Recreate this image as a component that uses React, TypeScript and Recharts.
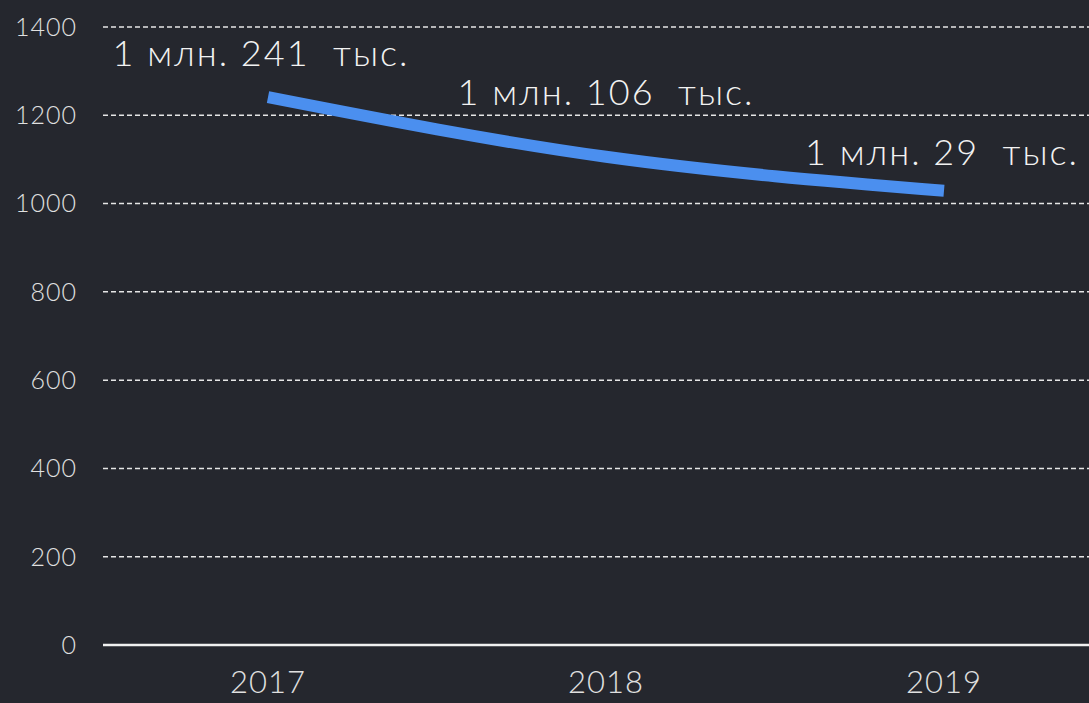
import { LineChart, Line, XAxis, YAxis, CartesianGrid, ReferenceLine, LabelList } from 'recharts'

const years = ['2017', '2018', '2019']
const visitors = [1241, 1106, 1029]
const yTicks = [0, 200, 400, 600, 800, 1000, 1200, 1400]

const data = years.map((year, i) => ({ year, value: visitors[i] }))

// how far above the point each caption sits
const captionLift = [31, 52, 26]
const captionShift = [-7, 0, -2]

const fmt = (v: number) => `${Math.floor(v / 1000)} млн. ${v % 1000}  тыс.`

const font = 'Lato, "Open Sans", sans-serif'

function Caption(props: any) {
  const { x, y, value, index } = props
  return (
    <text
      x={x + captionShift[index]}
      y={y - captionLift[index]}
      textAnchor="middle"
      fill="#f2f2f2"
      fontSize={36}
      fontWeight={300}
      letterSpacing={2}
      fontFamily={font}
      style={{ whiteSpace: 'pre' }}
    >
      {fmt(value)}
    </text>
  )
}

export default function App() {
  return (
    <div style={{ position: 'absolute', left: 0, top: 0, width: 1089, height: 703, background: '#25272e' }}>
      <LineChart width={1089} height={703} data={data} margin={{ top: 27, right: 0, bottom: 0, left: 0 }}>
        <CartesianGrid vertical={false} stroke="#e6e6e6" strokeDasharray="5 3" strokeWidth={1.5} />
        <XAxis
          dataKey="year"
          height={58}
          padding={{ left: 165, right: 145 }}
          axisLine={false}
          tickLine={false}
          tick={{ fill: '#e0e0e0', fontSize: 31, fontWeight: 300, fontFamily: font, letterSpacing: 1 }}
          tickMargin={20}
        />
        <YAxis
          width={103}
          domain={[0, 1400]}
          ticks={yTicks}
          axisLine={false}
          tickLine={false}
          tick={{ fill: '#e0e0e0', fontSize: 25, fontWeight: 300, fontFamily: font, letterSpacing: 1 }}
          tickMargin={20}
        />
        <ReferenceLine y={0} stroke="#f0f0f0" strokeWidth={2.5} />
        <Line
          type="monotone"
          dataKey="value"
          stroke="#4b8fef"
          strokeWidth={12}
          dot={false}
          isAnimationActive={false}
        >
          <LabelList dataKey="value" content={<Caption />} />
        </Line>
      </LineChart>
    </div>
  )
}
